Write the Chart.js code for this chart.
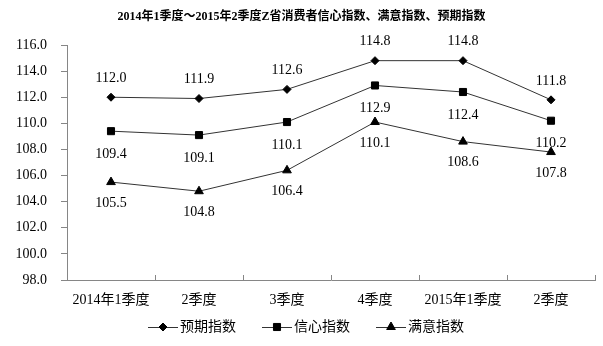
<!DOCTYPE html>
<html>
<head>
<meta charset="utf-8">
<script src="https://cdn.jsdelivr.net/npm/chart.js@4/dist/chart.umd.min.js"></script>
<style>
  body { margin: 0; background: #fff; }
  canvas { display: block; }
</style>
</head>
<body>
<canvas id="chart" width="603" height="346"></canvas>
<script>
// 数据
const categories = ['2014年1季度', '2季度', '3季度', '4季度', '2015年1季度', '2季度'];
const expectValues = [112.0, 111.9, 112.6, 114.8, 114.8, 111.8];       // 预期指数
const confidenceValues = [109.4, 109.1, 110.1, 112.9, 112.4, 110.2];   // 信心指数
const satisfactionValues = [105.5, 104.8, 106.4, 110.1, 108.6, 107.8]; // 满意指数
const yMin = 98;
const yMax = 116;
const yStep = 2;

const titleText = '2014年1季度～2015年2季度Z省消费者信心指数、满意指数、预期指数';
const FONT = '"Liberation Serif", "Noto Sans CJK SC", serif';
const AXIS_GRAY = '#868686';

// 数据标签
const dataLabelPlugin = {
    id: 'dataLabels',
    afterDatasetsDraw(chart) {
        const ctx = chart.ctx;
        ctx.save();
        ctx.font = '14px ' + FONT;
        ctx.fillStyle = '#000';
        ctx.textAlign = 'center';
        ctx.textBaseline = 'middle';
        chart.data.datasets.forEach((ds, i) => {
            const meta = chart.getDatasetMeta(i);
            meta.data.forEach((pt, j) => {
                ctx.fillText(ds.data[j].toFixed(1), pt.x, pt.y + ds.labelOffset);
            });
        });
        ctx.restore();
    }
};

// 标题、x轴刻度线、图例
const decorPlugin = {
    id: 'decor',
    afterDraw(chart) {
        const ctx = chart.ctx;
        const xScale = chart.scales.x;
        ctx.save();

        // 标题
        ctx.font = 'bold 12px ' + FONT;
        ctx.fillStyle = '#000';
        ctx.textAlign = 'center';
        ctx.textBaseline = 'middle';
        ctx.fillText(titleText, chart.width / 2, 17);

        // x轴刻度 (朝上)
        ctx.strokeStyle = AXIS_GRAY;
        ctx.lineWidth = 1;
        ctx.beginPath();
        for (let i = 1; i <= categories.length; i++) {
            let x;
            if (i < categories.length) {
                x = (xScale.getPixelForTick(i - 1) + xScale.getPixelForTick(i)) / 2;
            } else {
                x = xScale.right;
            }
            x = Math.round(x) + 0.5;
            ctx.moveTo(x, xScale.top);
            ctx.lineTo(x, xScale.top - 5);
        }
        ctx.stroke();

        // 图例
        const legendY = 327;
        const starts = [148, 262, 376];
        chart.data.datasets.forEach((ds, i) => {
            const x0 = starts[i];
            ctx.strokeStyle = ds.borderColor;
            ctx.lineWidth = 1;
            ctx.beginPath();
            ctx.moveTo(x0, legendY + 0.5);
            ctx.lineTo(x0 + 30, legendY + 0.5);
            ctx.stroke();
            ctx.fillStyle = '#000';
            ctx.strokeStyle = '#000';
            Chart.helpers.drawPoint(ctx, {
                pointStyle: ds.pointStyle,
                radius: ds.pointRadius,
                borderWidth: 1
            }, x0 + 15, legendY);
            ctx.fillStyle = '#000';
            ctx.font = '14px ' + FONT;
            ctx.textAlign = 'left';
            ctx.textBaseline = 'middle';
            ctx.fillText(ds.label, x0 + 32, legendY);
        });

        ctx.restore();
    }
};

const makeDataset = (label, values, style, radius, offset) => ({
    label: label,
    data: values,
    borderColor: '#333333',
    borderWidth: 1,
    pointStyle: style,
    pointRadius: radius,
    pointHoverRadius: radius,
    pointBackgroundColor: '#000',
    pointBorderColor: '#000',
    pointBorderWidth: 1,
    tension: 0,
    fill: false,
    labelOffset: offset
});

new Chart(document.getElementById('chart'), {
    type: 'line',
    data: {
        labels: categories,
        datasets: [
            makeDataset('预期指数', expectValues, 'rectRot', 4, -19),
            makeDataset('信心指数', confidenceValues, 'rect', 5, 23),
            makeDataset('满意指数', satisfactionValues, 'triangle', 5, 21)
        ]
    },
    options: {
        responsive: false,
        animation: false,
        events: [],
        layout: { padding: { top: 45, right: 8, left: 0, bottom: 0 } },
        plugins: {
            legend: { display: false },
            title: { display: false },
            tooltip: { enabled: false }
        },
        scales: {
            x: {
                offset: true,
                grid: { offset: true, drawOnChartArea: false, drawTicks: false },
                border: { color: AXIS_GRAY, width: 1 },
                ticks: {
                    color: '#000',
                    font: { family: FONT, size: 14 },
                    padding: 12,
                    maxRotation: 0,
                    autoSkip: false
                },
                afterFit(scale) { scale.height = 66; }
            },
            y: {
                min: yMin,
                max: yMax,
                grid: { drawOnChartArea: false, color: AXIS_GRAY, tickLength: 6 },
                border: { color: AXIS_GRAY, width: 1 },
                ticks: {
                    stepSize: yStep,
                    color: '#000',
                    font: { family: FONT, size: 14 },
                    padding: 14,
                    callback: v => v.toFixed(1)
                },
                afterFit(scale) { scale.width = 67; }
            }
        }
    },
    plugins: [dataLabelPlugin, decorPlugin]
});
</script>
</body>
</html>
